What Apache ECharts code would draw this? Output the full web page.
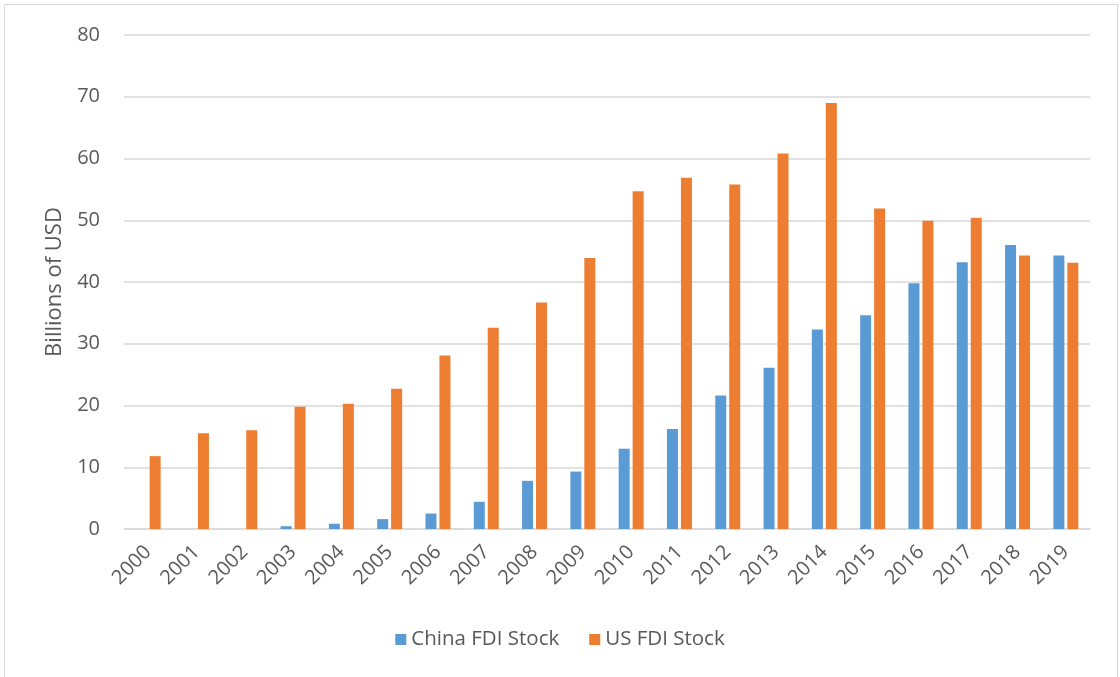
<!DOCTYPE html>
<html>
<head>
<meta charset="utf-8">
<script src="https://cdn.jsdelivr.net/npm/echarts@6/dist/echarts.min.js"></script>
<style>
  html, body { margin: 0; padding: 0; background: #ffffff; }
  #frame { position: absolute; left: 4px; top: 4px; width: 1114px; height: 690px; border: 1px solid #d9d9d9; box-sizing: border-box; }
  #chart { position: absolute; left: 0; top: 0; width: 1120px; height: 677px; }
</style>
</head>
<body>
<div id="frame"></div>
<div id="chart"></div>
<script>
// Years on the category axis
const years = ['2000','2001','2002','2003','2004','2005','2006','2007','2008','2009',
               '2010','2011','2012','2013','2014','2015','2016','2017','2018','2019'];
// FDI stock, billions of USD
const chinaFdiStock = [0, 0, 0, 0.45, 0.85, 1.6, 2.5, 4.4, 7.8, 9.3,
                       13.0, 16.2, 21.6, 26.1, 32.3, 34.6, 39.8, 43.2, 46.0, 44.3];
const usFdiStock = [11.8, 15.5, 16.0, 19.8, 20.3, 22.7, 28.1, 32.6, 36.7, 43.9,
                    54.7, 56.9, 55.8, 60.8, 69.0, 51.9, 49.9, 50.4, 44.3, 43.1];
const yTicks = { min: 0, max: 80, interval: 10 };

const FONT = '"Open Sans", "Noto Sans", sans-serif';
const TEXT = '#595959';

const chart = echarts.init(document.getElementById('chart'), null, { renderer: 'canvas' });
chart.setOption({
  animation: false,
  textStyle: { fontFamily: FONT, color: TEXT },
  grid: { left: 124, right: 30, top: 35, bottom: 148 },
  legend: {
    bottom: 22,
    left: 'center',
    itemWidth: 11,
    itemHeight: 11,
    itemGap: 30,
    icon: 'rect',
    textStyle: { fontFamily: FONT, fontSize: 20.5, color: TEXT },
    data: ['China FDI Stock', 'US FDI Stock']
  },
  xAxis: {
    type: 'category',
    data: years,
    axisTick: { show: false },
    axisLine: { lineStyle: { color: '#d9d9d9', width: 1.5 } },
    axisLabel: { rotate: 45, fontFamily: FONT, fontSize: 20, color: TEXT, margin: 20, interval: 0 }
  },
  yAxis: {
    type: 'value',
    min: yTicks.min,
    max: yTicks.max,
    interval: yTicks.interval,
    name: 'Billions of USD',
    nameLocation: 'middle',
    nameGap: 56,
    nameTextStyle: { fontFamily: FONT, fontSize: 22, color: TEXT },
    axisLine: { show: false },
    axisTick: { show: false },
    axisLabel: { fontFamily: FONT, fontSize: 20, color: TEXT, margin: 24 },
    splitLine: { lineStyle: { color: '#d9d9d9', width: 1.5 } }
  },
  series: [
    {
      name: 'China FDI Stock',
      type: 'bar',
      data: chinaFdiStock,
      barWidth: 11,
      barGap: '27%',
      itemStyle: { color: '#5b9bd5' }
    },
    {
      name: 'US FDI Stock',
      type: 'bar',
      data: usFdiStock,
      barWidth: 11,
      barGap: '27%',
      itemStyle: { color: '#ed7d31' }
    }
  ]
});
</script>
</body>
</html>
